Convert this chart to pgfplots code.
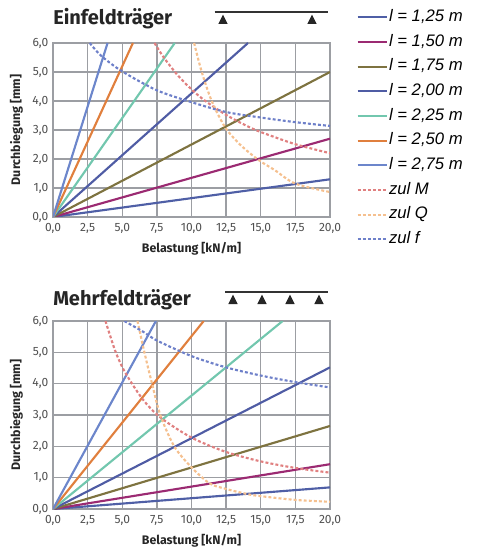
\documentclass[border=0pt]{standalone}
\usepackage{fontspec}
\setmainfont{Fira Sans}
\newfontfamily\legfont{Liberation Sans}
\usepackage{pgfplots}
\pgfplotsset{compat=1.18}

\definecolor{gridgray}{HTML}{9C9EA3}
\definecolor{tickgray}{HTML}{505050}
\definecolor{lA}{HTML}{4F5FA6}
\definecolor{lB}{HTML}{9B2A72}
\definecolor{lC}{HTML}{7E7340}
\definecolor{lD}{HTML}{4F5CA4}
\definecolor{lE}{HTML}{72C7AE}
\definecolor{lF}{HTML}{E07F3D}
\definecolor{lG}{HTML}{6C86CB}
\definecolor{zM}{HTML}{E08080}
\definecolor{zQ}{HTML}{F5C08F}
\definecolor{zF}{HTML}{6E80C9}

\pgfplotsset{
  traeger/.style={
    scale only axis, width=207.75pt,
    xmin=0, xmax=20, ymin=0, ymax=6,
    xtick={0,2.5,...,20}, ytick={0,1,...,6},
    grid=major, grid style={draw=gridgray, line width=1pt},
    axis line style={draw=gridgray, line width=1pt},
    major tick length=0pt,
    tick label style={font=\fontsize{9}{10}\selectfont, text=tickgray},
    xticklabel style={yshift=-1.5pt},
    /pgf/number format/fixed, /pgf/number format/fixed zerofill,
    /pgf/number format/precision=1, /pgf/number format/use comma,
    /pgf/number format/assume math mode=true,
    xlabel={Belastung [kN/m]}, ylabel={Durchbiegung [mm]},
    label style={font=\bfseries\fontsize{9.3}{11}\selectfont, text=black!85},
    xlabel style={at={(axis description cs:0.5,0)}, anchor=center, yshift=-23.5pt},
    ylabel style={at={(axis description cs:-0.132,0.5)}, anchor=center, rotate=0},
  },
  ln/.style={line width=1.6pt},
  zl/.style={line width=1.6pt, dash pattern=on 2.2pt off 1.6pt, smooth},
}

\begin{document}
\begin{tikzpicture}
\path[use as bounding box] (0,0) rectangle (360pt,-411pt);

% Einfeldtraeger
\node[anchor=base west, inner sep=0pt, font=\bfseries\fontsize{15}{18}\selectfont, text=black!85] at (39.75pt,-18.75pt) {Einfeldträger};
\draw[line width=0.8pt, black!80] (161pt,-9pt) -- (246pt,-9pt);
\fill[black!85] (167.25pt,-11pt) -- (170.75pt,-18pt) -- (163.75pt,-18pt) -- cycle;
\fill[black!85] (234pt,-11pt) -- (237.5pt,-18pt) -- (230.5pt,-18pt) -- cycle;

\begin{axis}[traeger, height=130.5pt, at={(39.75pt,-162.75pt)}, anchor=south west,
  legend style={at={(1.095,1.201)}, anchor=north west, draw=none, fill=none, inner sep=0pt,
    font=\legfont\itshape\fontsize{12.5}{14}\selectfont, row sep=5pt,
    nodes={inner sep=1pt, text height=9pt, text depth=2.5pt}},
  legend cell align=left,
  legend image code/.code={\draw[#1] (0pt,0pt) -- (21.75pt,0pt);},
]
\addplot[ln, lA] coordinates {(0,0) (20,1.30)};
\addlegendentry{l = 1,25 m}
\addplot[ln, lB] coordinates {(0,0) (20,2.70)};
\addlegendentry{l = 1,50 m}
\addplot[ln, lC] coordinates {(0,0) (20,5.00)};
\addlegendentry{l = 1,75 m}
\addplot[ln, lD] coordinates {(0,0) (14.08,6.0)};
\addlegendentry{l = 2,00 m}
\addplot[ln, lE] coordinates {(0,0) (8.79,6.0)};
\addlegendentry{l = 2,25 m}
\addplot[ln, lF] coordinates {(0,0) (5.77,6.0)};
\addlegendentry{l = 2,50 m}
\addplot[ln, lG] coordinates {(0,0) (3.94,6.0)};
\addlegendentry{l = 2,75 m}
\addplot[zl, zM] coordinates {(7.33,6.0) (8,5.5) (9,4.89) (10,4.4) (11,4.0) (12.5,3.52) (14,3.14) (15,2.93) (17.5,2.51) (20,2.2)};
\addlegendentry{zul M}
\addplot[zl, zQ] coordinates {(10.19,6.0) (10.74,5.0) (11.46,4.0) (12.42,3.1) (13.5,2.5) (14.83,1.97) (16,1.62) (17.5,1.15) (20,0.86)};
\addlegendentry{zul Q}
\addplot[zl, zF] coordinates {(2.65,6.0) (3.5,5.55) (5,5.02) (7.5,4.37) (10,3.96) (12.5,3.62) (15,3.43) (17.5,3.27) (20,3.14)};
\addlegendentry{zul f}
\end{axis}

% Mehrfeldtraeger
\node[anchor=base west, inner sep=0pt, font=\bfseries\fontsize{15}{18}\selectfont, text=black!85] at (39.75pt,-228.75pt) {Mehrfeldträger};
\draw[line width=0.8pt, black!80] (168.75pt,-219pt) -- (246pt,-219pt);
\foreach \xx in {174.75,196.5,217.5,239.25}{
  \fill[black!85] (\xx pt,-221pt) -- (\xx pt+3.5pt,-228pt) -- (\xx pt-3.5pt,-228pt) -- cycle;
}

\begin{axis}[traeger, height=141pt, at={(39.75pt,-381.75pt)}, anchor=south west]
\addplot[ln, lA] coordinates {(0,0) (20,0.69)};
\addplot[ln, lB] coordinates {(0,0) (20,1.43)};
\addplot[ln, lC] coordinates {(0,0) (20,2.65)};
\addplot[ln, lD] coordinates {(0,0) (20,4.52)};
\addplot[ln, lE] coordinates {(0,0) (16.58,6.0)};
\addplot[ln, lF] coordinates {(0,0) (10.88,6.0)};
\addplot[ln, lG] coordinates {(0,0) (7.43,6.0)};
\addplot[zl, zM] coordinates {(3.79,6.0) (4.5,5.04) (5.22,4.35) (6.5,3.49) (7.79,2.91) (10,2.28) (12.5,1.82) (15,1.52) (17.5,1.31) (20,1.16)};
\addplot[zl, zQ] coordinates {(6.1,6.0) (6.6,5.0) (7.15,4.0) (7.75,3.0) (8.75,2.0) (10,1.33) (11.3,0.82) (12.5,0.64) (14.1,0.47) (15,0.41) (17.5,0.29) (20,0.23)};
\addplot[zl, zF] coordinates {(5.15,6.0) (6.5,5.66) (7.5,5.38) (10,4.88) (12.5,4.52) (15,4.26) (17.5,4.05) (20,3.88)};
\end{axis}
\end{tikzpicture}
\end{document}
